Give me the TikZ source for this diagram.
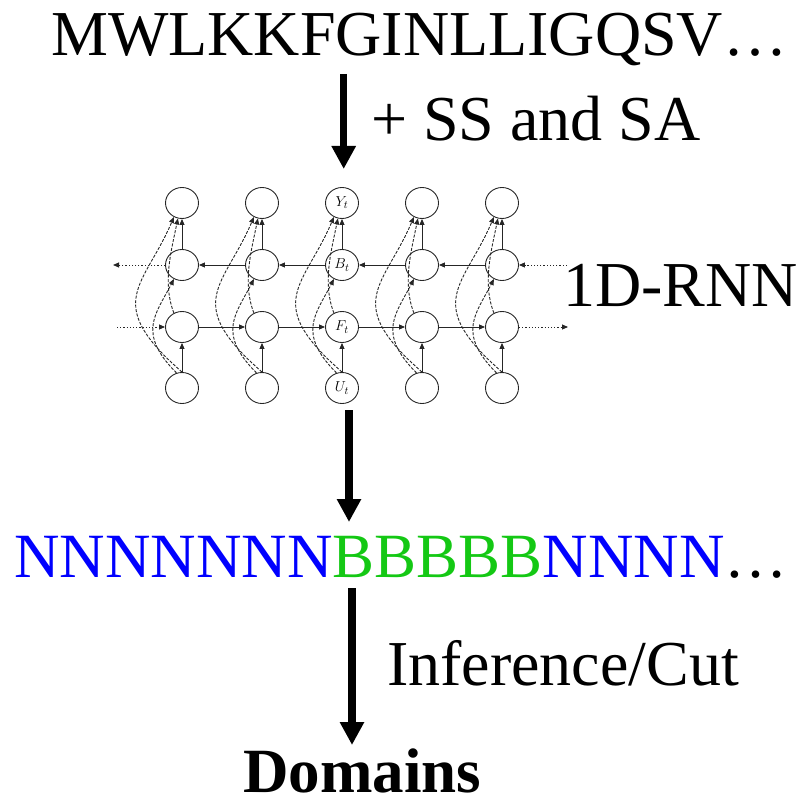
\documentclass[tikz,border=0pt]{standalone}
\usepackage{fontspec}
\setmainfont{Liberation Serif}
\usetikzlibrary{arrows.meta,shapes.geometric}
\definecolor{nblue}{RGB}{0,0,255}
\definecolor{bgreen}{RGB}{20,200,20}
\begin{document}
\begin{tikzpicture}[x=1pt,y=-1pt,
  big/.style={font=\fontsize{64}{70}\selectfont, inner sep=0pt, anchor=base west},
  bigarrow/.style={line width=7.5pt, -{Triangle[width=23pt,length=23pt]}},
  unit/.style={ellipse, draw=black!85, line width=0.9pt, minimum width=33pt, minimum height=31pt, inner sep=0pt, font=\fontsize{15}{15}\selectfont},
  link/.style={draw=black!85, line width=0.9pt, -{Triangle[width=5pt,length=6pt]}},
  dlink/.style={link, dash pattern=on 3pt off 1.5pt},
  dotlink/.style={link, dash pattern=on 1.2pt off 2pt}]
\useasboundingbox (0,0) rectangle (797,799);

% texts
\node[big] (seq) at (51,56) {MWLKKFGINLLIGQSV…};
\node[big] (feat) at (371,141) {+ SS and SA};
\node[big] (rnnlabel) at (563,306) {1D-RNN};
\node[big, font=\fontsize{63}{70}\selectfont] (labels) at (14,577) {\textcolor{nblue}{NNNNNNN}\textcolor{bgreen}{BBBBB}\textcolor{nblue}{NNNN}…};
\node[big] (inf) at (387,685) {Inference/Cut};
\node[big, font=\fontsize{63}{70}\selectfont\bfseries] (dom) at (243,792) {Domains};

% big arrows
\coordinate (a1s) at (343.7,74);  \coordinate (a1e) at (343.7,169);
\coordinate (a2s) at (349,410);   \coordinate (a2e) at (349,522);
\coordinate (a3s) at (352,588);   \coordinate (a3e) at (352,745);
\draw[bigarrow] (a1s) -- (a1e);
\draw[bigarrow] (a2s) -- (a2e);
\draw[bigarrow] (a3s) -- (a3e);

% RNN units
\foreach \i/\x in {1/182,2/262,4/422,5/502} {
  \node[unit] (Y\i) at (\x,203) {};
  \node[unit] (B\i) at (\x,265) {};
  \node[unit] (F\i) at (\x,327) {};
  \node[unit] (U\i) at (\x,388) {};
}
\node[unit] (Y3) at (342,203) {$Y_t$};
\node[unit] (B3) at (342,265) {$B_t$};
\node[unit] (F3) at (342,327) {$F_t$};
\node[unit] (U3) at (342,388) {$U_t$};

\foreach \i in {1,...,5} {
  \draw[link] (U\i) -- (F\i);
  \draw[link] (B\i) -- (Y\i);
  \draw[dlink] (U\i.north) .. controls +(-80,-70) and +(-30,70) .. (Y\i.240);
  \draw[dlink] (U\i.110) .. controls +(-40,-40) and +(-18,35) .. (B\i.240);
  \draw[dlink] (F\i.120) .. controls +(-12,-30) and +(-6,30) .. (Y\i.255);
}
\foreach \i/\j in {1/2,2/3,3/4,4/5} {
  \draw[link] (F\i) -- (F\j);
  \draw[link] (B\j) -- (B\i);
}
\coordinate (bL) at (113,265);
\coordinate (fL) at (117,327);
\coordinate (bR) at (567,265);
\coordinate (fR) at (568,327);
\draw[dotlink] (B1) -- (bL);
\draw[dotlink] (fL) -- (F1);
\draw[dotlink] (bR) -- (B5);
\draw[dotlink] (F5) -- (fR);
\end{tikzpicture}
\end{document}
